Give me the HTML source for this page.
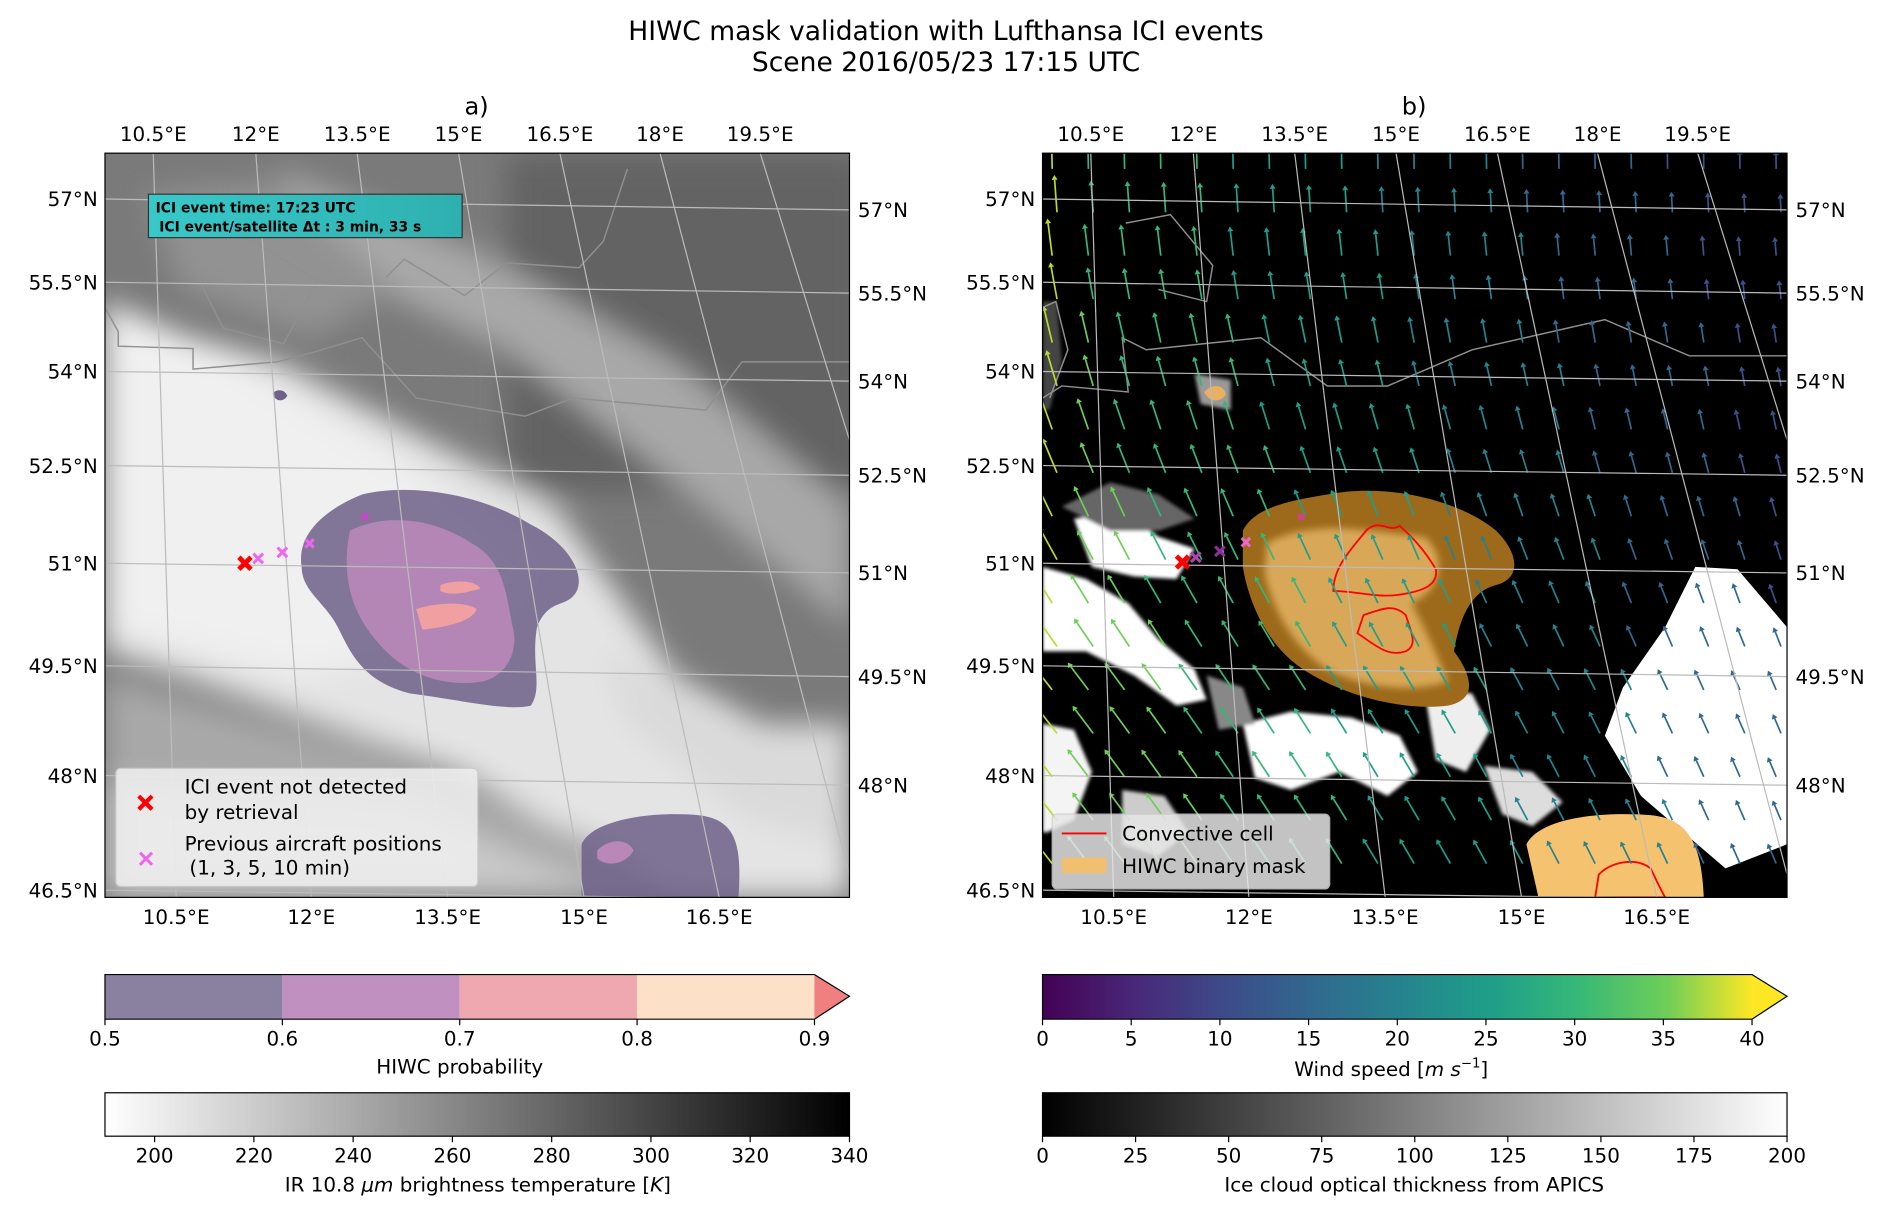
<!DOCTYPE html>
<html><head><meta charset="utf-8">
<style>
html,body{margin:0;padding:0;background:#fff;}
svg{display:block;font-family:"DejaVu Sans","Liberation Sans",sans-serif;}
</style></head>
<body>
<svg id="fig" width="1892" height="1217" viewBox="0 0 1568 1009" preserveAspectRatio="none" xmlns="http://www.w3.org/2000/svg">
<defs>
  <clipPath id="clipL"><rect x="87" y="127" width="617" height="617"/></clipPath>
  <clipPath id="clipR"><rect x="864" y="127" width="617" height="617"/></clipPath>
  <filter id="blur12"><feGaussianBlur stdDeviation="12"/></filter>
  <filter id="blur3"><feGaussianBlur stdDeviation="3"/></filter>
  <filter id="blur2"><feGaussianBlur stdDeviation="1.5"/></filter>
  <linearGradient id="viridis" x1="0" x2="1" y1="0" y2="0">
    <stop offset="0" stop-color="#440154"/><stop offset="0.13" stop-color="#482878"/>
    <stop offset="0.25" stop-color="#3e4989"/><stop offset="0.38" stop-color="#31688e"/>
    <stop offset="0.5" stop-color="#26828e"/><stop offset="0.63" stop-color="#1f9e89"/>
    <stop offset="0.75" stop-color="#35b779"/><stop offset="0.88" stop-color="#6ece58"/>
    <stop offset="1" stop-color="#fde725"/>
  </linearGradient>
  <linearGradient id="wk" x1="0" x2="1"><stop offset="0" stop-color="#fff"/><stop offset="1" stop-color="#000"/></linearGradient>
  <linearGradient id="kw" x1="0" x2="1"><stop offset="0" stop-color="#000"/><stop offset="1" stop-color="#fff"/></linearGradient>
  <linearGradient id="legbg" x1="0" x2="1"><stop offset="0" stop-color="#38c8c8"/><stop offset="1" stop-color="#2fb0b0"/></linearGradient>
</defs>

<text x="784" y="33" text-anchor="middle" font-size="22">HIWC mask validation with Lufthansa ICI events</text>
<text x="784" y="59" text-anchor="middle" font-size="22">Scene 2016/05/23 17:15 UTC</text>
<text x="395" y="95" text-anchor="middle" font-size="20">a)</text>
<text x="1172" y="95" text-anchor="middle" font-size="20">b)</text>

<!-- LEFT MAP -->
<g clip-path="url(#clipL)">
  <rect x="87" y="127" width="617" height="617" fill="#7a7a7a"/>
  <g filter="url(#blur12)">
    <rect x="420" y="127" width="300" height="280" fill="#636363"/>
    <polygon points="87,260 230,300 460,420 560,560 704,640 704,744 560,744 380,640 150,560 87,540" fill="#e4e4e4"/>
    <polygon points="87,250 180,290 330,380 440,470 400,520 250,560 87,520" fill="#f0f0f0"/>
    <polygon points="87,560 300,620 500,700 560,744 87,744" fill="#a8a8a8"/>
    <polygon points="87,650 330,665 520,744 87,744" fill="#c8c8c8"/>
    <polygon points="230,140 400,210 560,300 704,420 704,520 560,400 420,290 270,220" fill="#a8a8a8"/>
    <polygon points="120,160 230,150 330,240 260,280 150,240" fill="#929292"/>
    <polygon points="500,540 620,600 704,600 704,700 620,680 520,600" fill="#dadada"/>
  </g>
  <path d="M250,470 C245,440 275,420 300,410 C340,400 400,410 440,435 C470,450 485,475 478,490 C470,505 455,495 445,520 C440,550 450,570 440,585 C420,590 380,580 340,575 C300,565 290,540 280,520 C270,500 250,490 250,470 Z" fill="#6e6088" opacity="0.85"/>
  <path d="M290,440 C320,425 360,430 390,450 C420,465 420,500 425,520 C430,540 420,560 400,565 C370,570 340,560 320,540 C300,520 280,490 290,440 Z" fill="#b988b8" opacity="0.9"/>
  <path d="M345,505 C360,500 385,498 395,505 C392,515 370,520 350,522 Z" fill="#f0a0a0"/>
  <path d="M365,485 C380,480 395,482 398,488 C385,492 372,494 365,490 Z" fill="#f0a0a0"/>
  <path d="M482,700 C490,680 540,672 580,676 C610,680 615,700 612,744 L482,744 Z" fill="#6e6088" opacity="0.85"/>
  <path d="M495,705 C505,695 520,695 525,705 C520,715 505,720 495,712 Z" fill="#b988b8"/>
  <path d="M226,326 C230,322 236,323 238,328 C236,333 228,334 226,326 Z" fill="#6e6088"/>
  <polyline points="87,255 98,275 98,287 160,289 160,306 230,300 260,292 300,280 345,330 435,345 475,330 585,340 615,300 704,300" fill="none" stroke="#909090" stroke-width="1.2"/>
  <polyline points="146,199 190,187 263,233 235,285 185,272 160,222" fill="none" stroke="#909090" stroke-width="1.2"/>
  <polyline points="320,230 335,215 385,245 420,218 480,222 500,200 520,140" fill="none" stroke="#909090" stroke-width="1.2"/>
  <g id="gridL"></g>
  <g stroke="#ff0000" stroke-width="4"><line x1="198" y1="462" x2="208" y2="472"/><line x1="208" y1="462" x2="198" y2="472"/></g>
  <g stroke="#ee66ee" stroke-width="2.5">
    <line x1="210" y1="459" x2="218" y2="467"/><line x1="218" y1="459" x2="210" y2="467"/>
    <line x1="230" y1="454" x2="238" y2="462"/><line x1="238" y1="454" x2="230" y2="462"/>
    <line x1="253" y1="447" x2="260" y2="454"/><line x1="260" y1="447" x2="253" y2="454"/>
    <line x1="300" y1="426" x2="305" y2="431" stroke="#cc44cc"/><line x1="305" y1="426" x2="300" y2="431" stroke="#cc44cc"/>
  </g>
  <rect x="123" y="161" width="260" height="36" fill="url(#legbg)" stroke="#333" stroke-width="1"/>
  <text x="129" y="176" font-size="11.5" font-weight="bold">ICI event time: 17:23 UTC</text>
  <text x="132" y="192" font-size="11.5" font-weight="bold">ICI event/satellite Δt : 3 min, 33 s</text>
  <g>
    <rect x="96" y="637" width="300" height="98" rx="4" fill="#f0f0f0" opacity="0.85" stroke="#ccc"/>
    <g stroke="#ff0000" stroke-width="3.5"><line x1="115" y1="660" x2="126" y2="671"/><line x1="126" y1="660" x2="115" y2="671"/></g>
    <text x="153" y="658" font-size="16.5">ICI event not detected</text>
    <text x="153" y="679" font-size="16.5"> by retrieval</text>
    <g stroke="#ee66ee" stroke-width="2.5"><line x1="116" y1="707" x2="126" y2="717"/><line x1="126" y1="707" x2="116" y2="717"/></g>
    <text x="153" y="705" font-size="16.5">Previous aircraft positions</text>
    <text x="157" y="725" font-size="16.5">(1, 3, 5, 10 min)</text>
  </g>
</g>
<rect x="87" y="127" width="617" height="617" fill="none" stroke="#000" stroke-width="1"/>

<!-- RIGHT MAP -->
<g clip-path="url(#clipR)">
  <rect x="864" y="127" width="617" height="617" fill="#000"/>
  <g filter="url(#blur2)">
    <polygon points="864,250 876,250 880,300 870,340 864,340" fill="#444"/>
    <polygon points="890,430 930,425 960,445 990,455 975,480 940,478 905,470" fill="#fff"/>
    <polygon points="864,470 900,480 935,500 960,530 990,555 1000,580 975,585 940,560 900,540 864,540" fill="#fff"/>
    <polygon points="880,420 920,400 960,410 990,430 960,440 920,440" fill="#666"/>
    <polygon points="864,600 890,605 905,640 890,680 868,690 864,690" fill="#f4f4f4"/>
    <polygon points="1030,600 1070,590 1120,595 1160,610 1175,640 1150,660 1110,640 1070,655 1040,645" fill="#fff"/>
    <polygon points="1180,570 1220,575 1235,605 1215,640 1190,630" fill="#eee"/>
    <polygon points="930,655 965,660 985,690 960,710 930,700" fill="#ccc"/>
    <polygon points="1230,635 1270,640 1295,665 1270,685 1245,675" fill="#ddd"/>
    <polygon points="1000,560 1030,570 1040,600 1010,605" fill="#888"/>
    <polygon points="990,310 1020,315 1020,340 995,335" fill="#999"/>
  </g>
  <polygon points="1405,470 1440,472 1481,520 1481,700 1430,720 1360,660 1330,610 1345,570 1380,520" fill="#fff"/>
  <path d="M1030,440 C1040,420 1070,415 1100,410 C1150,400 1210,415 1240,440 C1260,460 1260,480 1240,485 C1220,490 1210,510 1205,540 C1220,560 1225,580 1200,585 C1160,590 1110,575 1080,555 C1050,535 1035,500 1030,470 Z" fill="#9c6a1a"/>
  <path d="M1050,450 C1090,430 1130,440 1180,445 C1200,460 1195,490 1170,500 C1180,520 1190,540 1200,565 C1170,575 1130,570 1100,555 C1070,535 1055,505 1048,475 Z" fill="#e8b868" opacity="0.8" filter="url(#blur3)"/>
  <path d="M1265,700 C1275,680 1320,672 1370,676 C1400,680 1410,700 1412,744 L1275,744 Z" fill="#f5c270"/>
  <path d="M998,325 C1004,318 1014,318 1016,327 C1012,334 1002,334 998,325 Z" fill="#e8b060"/>
  <path d="M1133,439 C1145,430 1150,442 1160,436 C1170,445 1180,455 1190,472 C1192,485 1180,490 1160,493 C1140,496 1125,490 1105,490 C1105,470 1120,455 1133,439 Z" fill="none" stroke="#ff0000" stroke-width="1.5"/>
  <path d="M1130,510 C1145,505 1155,500 1165,510 C1170,525 1175,535 1165,540 C1150,545 1140,535 1125,525 Z" fill="none" stroke="#ff0000" stroke-width="1.5"/>
  <path d="M1325,725 C1335,715 1355,710 1368,720 C1375,735 1380,744 1380,744 L1322,744 Z" fill="none" stroke="#ff0000" stroke-width="1.5"/>
  <polyline points="864,255 875,250 885,290 870,330" fill="none" stroke="#909090" stroke-width="1.2"/>
  <polyline points="933,185 970,178 1005,220 1000,250 960,240" fill="none" stroke="#909090" stroke-width="1.2"/>
  <polyline points="864,330 880,320 935,325 930,280 950,290 1045,280 1100,320 1150,320 1220,290 1330,265 1400,295 1481,295" fill="none" stroke="#909090" stroke-width="1.2"/>
  <g id="arrows"></g>
  <g id="gridR"></g>
  <g stroke="#ff0000" stroke-width="4"><line x1="975" y1="461" x2="985" y2="471"/><line x1="985" y1="461" x2="975" y2="471"/></g>
  <g stroke-width="2.5">
    <line x1="987" y1="458" x2="995" y2="466" stroke="#b044b0"/><line x1="995" y1="458" x2="987" y2="466" stroke="#b044b0"/>
    <line x1="1007" y1="453" x2="1015" y2="461" stroke="#9030a0"/><line x1="1015" y1="453" x2="1007" y2="461" stroke="#9030a0"/>
    <line x1="1029" y1="446" x2="1036" y2="453" stroke="#ee66cc"/><line x1="1036" y1="446" x2="1029" y2="453" stroke="#ee66cc"/>
    <line x1="1076" y1="426" x2="1081" y2="431" stroke="#cc4488"/><line x1="1081" y1="426" x2="1076" y2="431" stroke="#cc4488"/>
  </g>
  <g>
    <rect x="872" y="675" width="230" height="62" rx="4" fill="#e6e6e6" opacity="0.85" stroke="#ccc"/>
    <line x1="880" y1="691" x2="917" y2="691" stroke="#ff0000" stroke-width="1.5"/>
    <text x="930" y="697" font-size="16.5">Convective cell</text>
    <rect x="880" y="711" width="37" height="13" fill="#f0c070"/>
    <text x="930" y="724" font-size="16.5">HIWC binary mask</text>
  </g>
</g>
<rect x="864" y="127" width="617" height="617" fill="none" stroke="#000" stroke-width="1"/>
<g id="labels" font-size="16.5"></g>

<g>
  <rect x="87" y="808" width="147" height="37" fill="#8a80a0"/>
  <rect x="234" y="808" width="147" height="37" fill="#c090c0"/>
  <rect x="381" y="808" width="147" height="37" fill="#f0a8b0"/>
  <rect x="528" y="808" width="147" height="37" fill="#fde0c8"/>
  <polygon points="675,808 704,826 675,845" fill="#f08080"/>
  <polygon points="87,808 675,808 704,826 675,845 87,845" fill="none" stroke="#000" stroke-width="1"/>
  <g id="ticksHIWC"></g>
  <text x="381" y="890" text-anchor="middle" font-size="16.5">HIWC probability</text>
</g>
<g>
  <rect x="87" y="906" width="617" height="36" fill="url(#wk)" stroke="#000" stroke-width="1"/>
  <g id="ticksIR"></g>
  <text x="396" y="988" text-anchor="middle" font-size="16.5">IR 10.8 <tspan font-style="italic">μm</tspan> brightness temperature [<tspan font-style="italic">K</tspan>]</text>
</g>
<g>
  <rect x="864" y="808" width="588" height="37" fill="url(#viridis)"/>
  <polygon points="1452,808 1481,826 1452,845" fill="#fde725"/>
  <polygon points="864,808 1452,808 1481,826 1452,845 864,845" fill="none" stroke="#000" stroke-width="1"/>
  <g id="ticksWind"></g>
  <text x="1153" y="892" text-anchor="middle" font-size="16.5">Wind speed [<tspan font-style="italic">m s</tspan><tspan font-size="11" dy="-7">−1</tspan><tspan dy="7">]</tspan></text>
</g>
<g>
  <rect x="864" y="906" width="617" height="36" fill="url(#kw)" stroke="#000" stroke-width="1"/>
  <g id="ticksICOT"></g>
  <text x="1172" y="988" text-anchor="middle" font-size="16.5">Ice cloud optical thickness from APICS</text>
</g>
</svg>
<script>
const NS = "http://www.w3.org/2000/svg";
const lonLabels = ["10.5°E","12°E","13.5°E","15°E","16.5°E","18°E","19.5°E"];
const lonTopX = [127,212,296,380,464,547,630];
const lonBotX = [146,258,371,484,596,709,822];
const latLabels = ["57°N","55.5°N","54°N","52.5°N","51°N","49.5°N","48°N","46.5°N"];
const latLeftY = [165,234,308,386,467,552,643,738];
const latRightY = [174,243,316,394,475,561,651,746];
const hiwcTicks = [0.5,0.6,0.7,0.8,0.9];
const irTicks = [200,220,240,260,280,300,320,340];
const windTicks = [0,5,10,15,20,25,30,35,40];
const icotTicks = [0,25,50,75,100,125,150,175,200];

function mk(tag, attrs, parent, txt){const e=document.createElementNS(NS,tag);for(const k in attrs)e.setAttribute(k,attrs[k]);if(txt!==undefined)e.textContent=txt;parent.appendChild(e);return e;}

function drawGrid(gid, dx){
  const g=document.getElementById(gid);
  lonTopX.forEach((xt,i)=>{
    const l=mk('line',{x1:xt+dx,y1:127,x2:lonBotX[i]+dx,y2:744,stroke:'#bbbbbb','stroke-width':1},g);
    
    
  });
  latLeftY.forEach((yl,i)=>{
    const l=mk('line',{x1:87+dx,y1:yl,x2:704+dx,y2:latRightY[i],stroke:'#bbbbbb','stroke-width':1},g);
    
    
  });
}
drawGrid('gridL',0); drawGrid('gridR',777);

const lab=document.getElementById('labels');
[0,777].forEach(dx=>{
  lonLabels.forEach((t,i)=>{
    const e=mk('text',{x:lonTopX[i]+dx,y:117,'text-anchor':'middle'},lab,t);
    
    
    if(lonBotX[i]<684){
      const b=mk('text',{x:lonBotX[i]+dx,y:766,'text-anchor':'middle'},lab,t);
      
      
    }
  });
  latLabels.forEach((t,i)=>{
    const e=mk('text',{x:81+dx,y:latLeftY[i]+6,'text-anchor':'end'},lab,t);
    
    
    if(latRightY[i]<744){
      const r=mk('text',{x:711+dx,y:latRightY[i]+6,'text-anchor':'start'},lab,t);
      
      
    }
  });
});

function ticks(gid, vals, vmin, vmax, x0, x1, ybar, fmt){
  const g=document.getElementById(gid);
  vals.forEach(v=>{
    const x=x0+(v-vmin)/(vmax-vmin)*(x1-x0);
    mk('line',{x1:x,y1:ybar,x2:x,y2:ybar+5,stroke:'#000'},g);
    const t=mk('text',{x:x,y:ybar+22,'text-anchor':'middle','font-size':16.5},g,fmt?fmt(v):String(v));
    
    
  });
}
ticks('ticksHIWC',hiwcTicks,0.5,0.9,87,675,845,v=>v.toFixed(1));
ticks('ticksIR',irTicks,190,340,87,704,942);
ticks('ticksWind',windTicks,0,40,864,1452,845);
ticks('ticksICOT',icotTicks,0,200,864,1481,942);

// wind vector field (decorative)
const ag=document.getElementById('arrows');
const cols=['#3e4989','#3b528b','#31688e','#26828e','#1f9e89','#35b779','#6ece58','#b5de2b'];
for(let r=0;r<17;r++){
  for(let c=0;c<21;c++){
    const x=872+c*30+(r%2)*4, y=140+r*36;
    const fx=(x-864)/617, fy=(y-127)/617;
    const ang=-90-38*Math.min(1,fy*1.4)*(0.6+0.4*(1-fx));
    let spd=0.75-0.6*fx+0.15*fy; if(fx<0.04)spd=0.95;
    spd=Math.max(0.1,Math.min(1,spd));
    const len=8+spd*20;
    const a=ang*Math.PI/180;
    const x2=x+Math.cos(a)*len, y2=y+Math.sin(a)*len;
    const col=cols[Math.min(7,Math.floor(spd*8))];
    const l=mk('line',{x1:x,y1:y,x2:x2,y2:y2,stroke:col,'stroke-width':1.4},ag);
    
    
    const hx=Math.cos(a),hy=Math.sin(a);
    mk('polygon',{points:`${x2+hx*4},${y2+hy*4} ${x2-hy*2.5},${y2+hx*2.5} ${x2+hy*2.5},${y2-hx*2.5}`,fill:col},ag);
  }
}
</script>
</body></html>
